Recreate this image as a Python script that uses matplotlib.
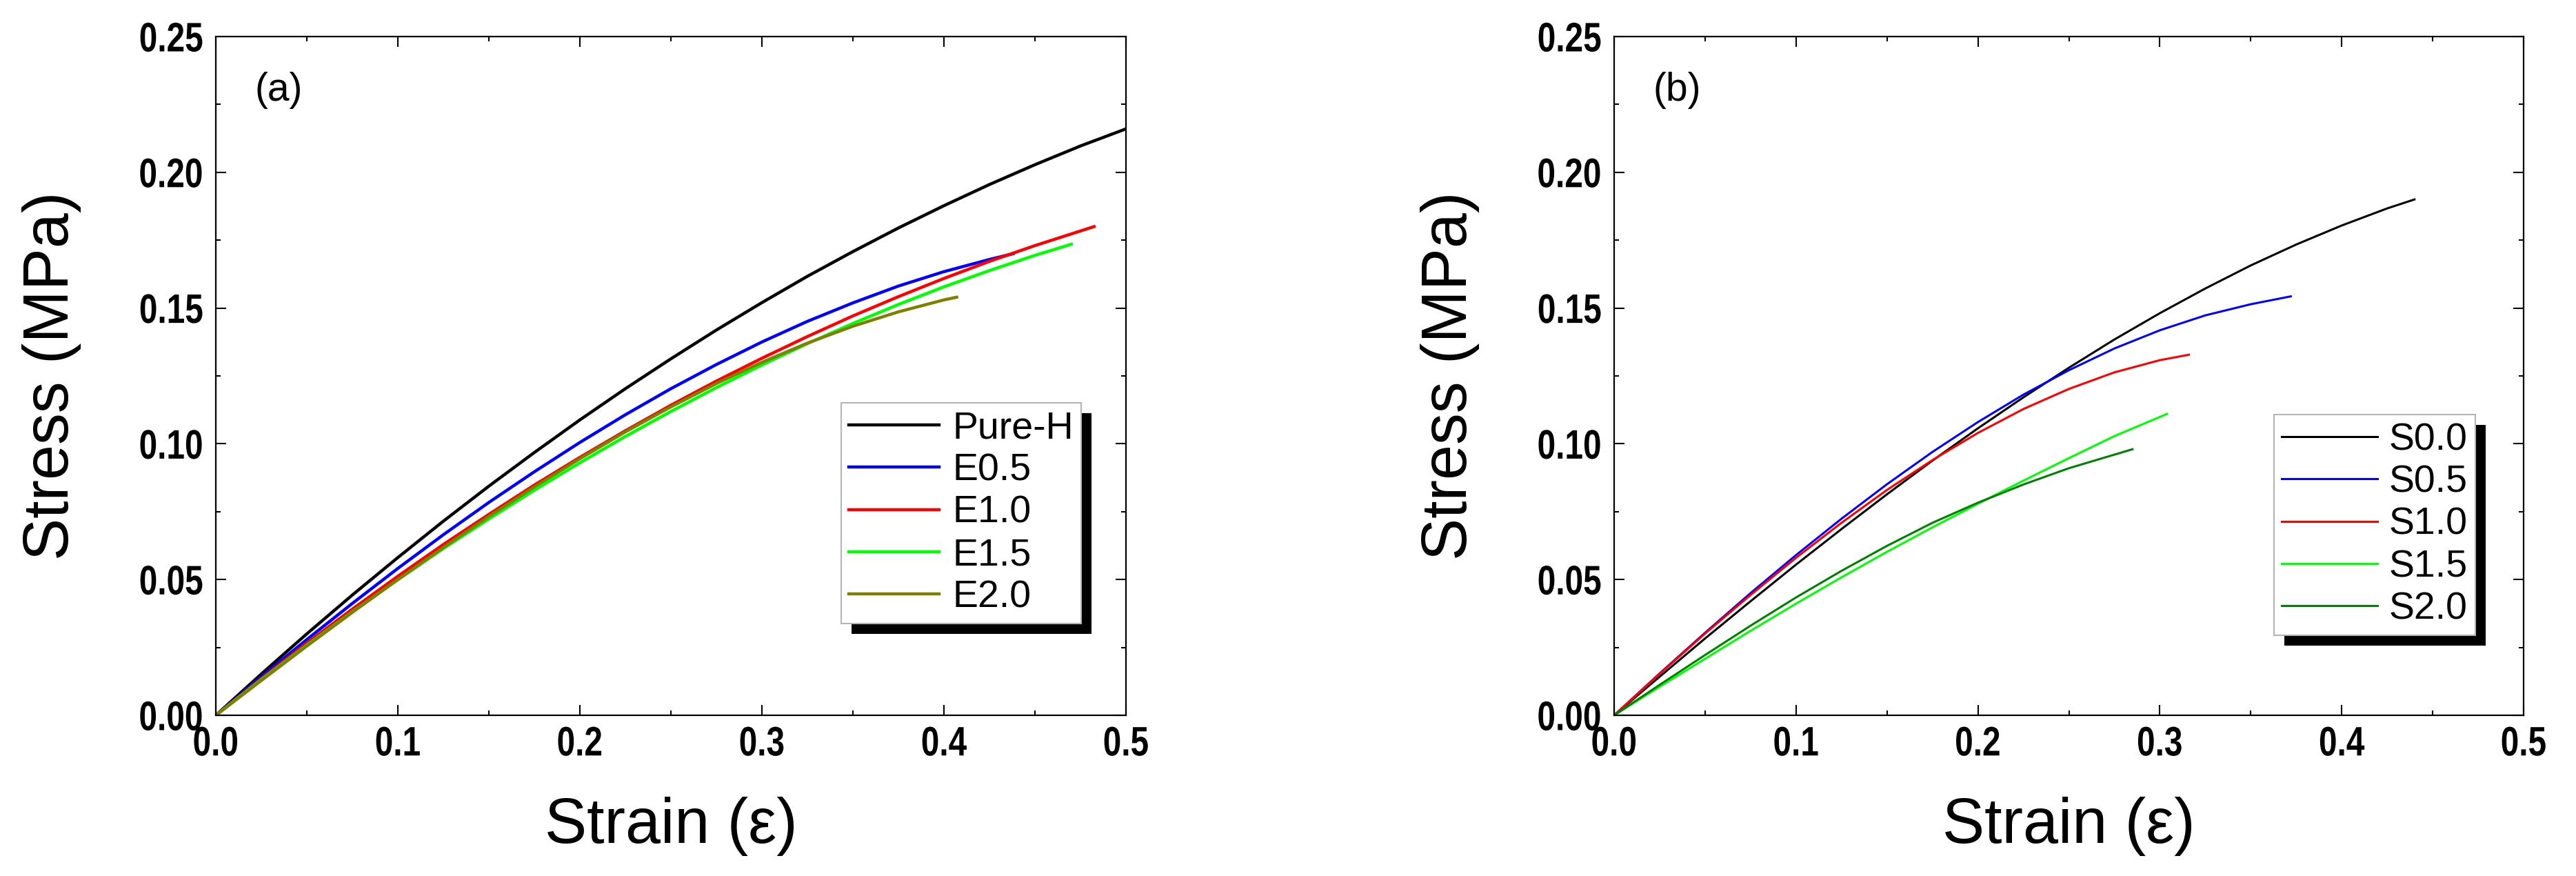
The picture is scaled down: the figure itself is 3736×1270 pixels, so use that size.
import matplotlib
matplotlib.use("Agg")
import matplotlib.pyplot as plt
from matplotlib.patches import Rectangle
from matplotlib.patheffects import AbstractPathEffect
from matplotlib.transforms import Affine2D
from matplotlib.ticker import MultipleLocator, FormatStrFormatter

# ----- Data (strain step 0.025) -----
strain = [0, .025, .05, .075, .10, .125, .15, .175, .20, .225, .25,
          .275, .30, .325, .35, .375, .40, .425, .45, .475, .50]

# panel (a)
pure_h_x = strain
pure_h_y = [0, .0152, .0300, .0443, .0581, .0715, .0844, .0968, .1088, .1203, .1313,
            .1419, .1520, .1617, .1708, .1795, .1877, .1955, .2028, .2097, .2160]
e05_x = strain[:18] + [.438]
e05_y = [0, .0142, .0279, .0412, .0541, .0665, .0784, .0897, .1005, .1107, .1203,
         .1292, .1375, .1451, .1519, .1581, .1634, .1679, .1700]
e10_x = strain[:19] + [.4825]
e10_y = [0, .0135, .0266, .0391, .0512, .0629, .0740, .0848, .0950, .1048, .1142,
         .1231, .1315, .1395, .1471, .1542, .1609, .1672, .1730, .1800]
e15_x = strain[:19] + [.47]
e15_y = [0, .0131, .0258, .0381, .0499, .0614, .0723, .0829, .0930, .1027, .1119,
         .1207, .1290, .1369, .1443, .1513, .1578, .1638, .1694, .1735]
e20_x = strain[:17] + [.407]
e20_y = [0, .0128, .0255, .0379, .0500, .0618, .0732, .0841, .0945, .1044, .1136,
         .1222, .1300, .1371, .1433, .1486, .1530, .1540]

# panel (b)
s00_x = strain[:18] + [.44]
s00_y = [0, .0142, .0283, .0420, .0555, .0686, .0814, .0938, .1057, .1171, .1280,
         .1384, .1481, .1572, .1657, .1734, .1804, .1867, .1900]
s05_x = strain[:15] + [.372]
s05_y = [0, .0154, .0304, .0450, .0590, .0724, .0851, .0970, .1080, .1181, .1271,
         .1351, .1418, .1473, .1514, .1543]
s10_x = strain[:13] + [.316]
s10_y = [0, .0152, .0301, .0443, .0580, .0709, .0830, .0940, .1040, .1128, .1202,
         .1263, .1308, .1328]
s15_x = strain[:12] + [.304]
s15_y = [0, .0105, .0208, .0311, .0411, .0508, .0602, .0692, .0779, .0864, .0947,
         .1028, .1110]
s20_x = strain[:11] + [.285]
s20_y = [0, .0112, .0222, .0330, .0434, .0532, .0624, .0709, .0783, .0850, .0910,
         .0980]

labels_a = ["Pure-H", "E0.5", "E1.0", "E1.5", "E2.0"]
colors_a = ["#000000", "#0000ff", "#ff0000", "#00ff00", "#808000"]
labels_b = ["S0.0", "S0.5", "S1.0", "S1.5", "S2.0"]
colors_b = ["#000000", "#0000ff", "#ff0000", "#00ff00", "#008000"]

series_a = [(pure_h_x, pure_h_y), (e05_x, e05_y), (e10_x, e10_y),
            (e15_x, e15_y), (e20_x, e20_y)]
series_b = [(s00_x, s00_y), (s05_x, s05_y), (s10_x, s10_y),
            (s15_x, s15_y), (s20_x, s20_y)]

plt.rcParams['font.family'] = ['Liberation Sans', 'DejaVu Sans']


# tick labels in the reference are a condensed bold face:
# squeeze the glyph outlines horizontally
class Condense(AbstractPathEffect):
    def __init__(self, sx, anchor='center'):
        super().__init__()
        self.sx = sx
        self.anchor = anchor

    def draw_path(self, renderer, gc, tpath, affine, rgbFace=None):
        v = affine.transform(tpath.vertices)
        if len(v) == 0:
            return
        if self.anchor == 'right':
            cx = v[:, 0].max()
        else:
            cx = 0.5 * (v[:, 0].min() + v[:, 0].max())
        t = affine + Affine2D().translate(-cx, 0).scale(self.sx, 1).translate(cx, 0)
        renderer.draw_path(gc, tpath, t, rgbFace)


# ----- Figure & axes -----
W, H = 3736, 1270
fig = plt.figure(figsize=(W / 100, H / 100), dpi=100)
ax_a = fig.add_axes([313 / W, 233 / H, 1320 / W, 984 / H])
ax_b = fig.add_axes([2341 / W, 233 / H, 1319 / W, 984 / H])


def style_axes(ax, tag):
    ax.set_xlim(0, 0.5)
    ax.set_ylim(0, 0.25)
    ax.xaxis.set_major_locator(MultipleLocator(0.1))
    ax.xaxis.set_minor_locator(MultipleLocator(0.05))
    ax.yaxis.set_major_locator(MultipleLocator(0.05))
    ax.yaxis.set_minor_locator(MultipleLocator(0.025))
    ax.xaxis.set_major_formatter(FormatStrFormatter('%.1f'))
    ax.yaxis.set_major_formatter(FormatStrFormatter('%.2f'))
    ax.tick_params(which='both', direction='in', top=True, right=True,
                   width=1.5, color='black')
    ax.tick_params(which='major', length=11)
    ax.tick_params(which='minor', length=5)
    ax.tick_params(axis='y', pad=13)
    ax.tick_params(axis='x', pad=11)
    for lab in ax.get_xticklabels():
        lab.set_fontweight('bold')
        lab.set_fontsize(43)
        lab.set_path_effects([Condense(0.8, 'center')])
    for lab in ax.get_yticklabels():
        lab.set_fontweight('bold')
        lab.set_fontsize(43)
        lab.set_path_effects([Condense(0.8, 'right')])
    for sp in ax.spines.values():
        sp.set_linewidth(1.6)
        sp.set_color('black')
    ax.set_xlabel("Strain (ε)", fontsize=66)
    ax.set_ylabel("Stress (MPa)", fontsize=66)
    ax.xaxis.set_label_coords(0.5, -0.12)
    ax.yaxis.set_label_coords(-0.148, 0.5)
    ax.text(0.043, 0.921, tag, transform=ax.transAxes, fontsize=41,
            ha='left', va='center')


# ---- panel (a) ----
for (x, y), lab, col in zip(series_a, labels_a, colors_a):
    ax_a.plot(x, y, color=col, lw=3.2, label=lab)
style_axes(ax_a, "(a)")
leg_a = ax_a.legend(loc='upper left', bbox_to_anchor=(0.6871, 0.4604),
                    borderaxespad=0, fontsize=40, handlelength=2.35,
                    handletextpad=0.36, labelspacing=0.17, borderpad=0.2,
                    fancybox=False, framealpha=1, edgecolor='#b4b4b4')
leg_a.get_frame().set_linewidth(1.5)

# ---- panel (b) ----
for (x, y), lab, col in zip(series_b, labels_b, colors_b):
    ax_b.plot(x, y, color=col, lw=2.2, label=lab)
style_axes(ax_b, "(b)")
leg_b = ax_b.legend(loc='upper left', bbox_to_anchor=(0.7256, 0.4431),
                    borderaxespad=0, fontsize=40, handlelength=2.5,
                    handletextpad=0.3, labelspacing=0.17, borderpad=0.2,
                    fancybox=False, framealpha=1, edgecolor='#b4b4b4')
leg_b.get_frame().set_linewidth(1.5)

# ---- legend drop shadows (offset 15 px right / down) ----
fig.canvas.draw()
for ax, leg in ((ax_a, leg_a), (ax_b, leg_b)):
    bb = leg.get_frame().get_window_extent()
    abb = ax.get_window_extent()
    bb_ax = bb.transformed(ax.transAxes.inverted())
    ox = 15 / abb.width
    oy = 15 / abb.height
    ax.add_patch(Rectangle((bb_ax.x0 + ox, bb_ax.y0 - oy), bb_ax.width,
                           bb_ax.height, transform=ax.transAxes,
                           facecolor='black', edgecolor='none',
                           zorder=4.9, clip_on=False))

fig.savefig("out.png", dpi=100)
